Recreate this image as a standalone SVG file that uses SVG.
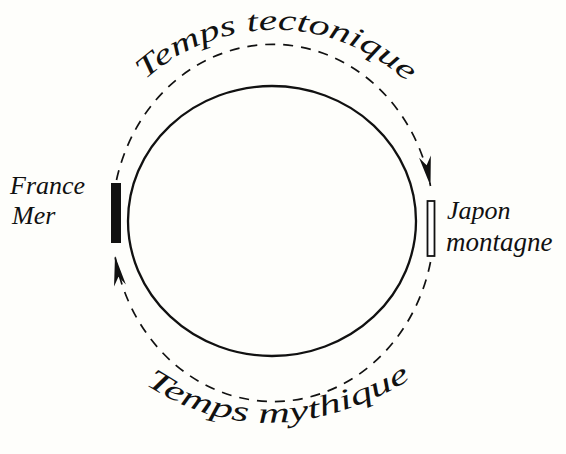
<svg xmlns="http://www.w3.org/2000/svg" width="566" height="454" viewBox="0 0 566 454">
  <style>
    .hand { font-family: "Liberation Serif", "DejaVu Serif", serif; font-style: italic; fill: #111; }
    .dash { fill: none; stroke: #111; stroke-width: 1.7; stroke-dasharray: 10 8; }
    .solid { fill: none; stroke: #111; stroke-width: 2.3; }
  </style>
  <defs>
    <marker id="arrow" markerUnits="userSpaceOnUse" markerWidth="40" markerHeight="20" viewBox="-32 -10 34 20" refX="0" refY="0" orient="auto">
      <path d="M0,0 L-30,-6 L-21,0 L-30,6 Z" fill="#111"/>
    </marker>
    <path id="topArc" d="M145,80 A200,210 0 0 1 412,87"/>
    <path id="botArc" d="M145,384 Q270,466 420,374"/>
  </defs>
  <rect width="566" height="454" fill="#fefefb"/>

  <g id="earth">
    <ellipse class="solid" cx="272" cy="221" rx="144" ry="135"/>
  </g>

  <g id="connectors">
    <path id="temps-tectonique-arc" class="dash" d="M116.5,180 A161,178 0 0 1 430.5,186" marker-end="url(#arrow)"/>
    <path id="temps-mythique-arc" class="dash" d="M430.5,262 A161,178 0 0 1 115,256" marker-end="url(#arrow)"/>
  </g>

  <g id="france">
    <rect x="111" y="183" width="10" height="60" fill="#111"/>
    <text class="hand" x="10" y="194" font-size="26">France</text>
    <text class="hand" x="12" y="224" font-size="26">Mer</text>
  </g>

  <g id="japon">
    <rect x="427.5" y="201" width="7" height="55" fill="#fff" stroke="#111" stroke-width="1.8"/>
    <text class="hand" x="447" y="219" font-size="26">Japon</text>
    <text class="hand" x="446" y="251" font-size="27">montagne</text>
  </g>

  <g id="label-tectonique">
    <text class="hand" font-size="29"><textPath href="#topArc" textLength="288" lengthAdjust="spacingAndGlyphs">Temps tectonique</textPath></text>
  </g>

  <g id="label-mythique">
    <text class="hand" font-size="29"><textPath href="#botArc" textLength="282" lengthAdjust="spacingAndGlyphs">Temps mythique</textPath></text>
  </g>
</svg>
